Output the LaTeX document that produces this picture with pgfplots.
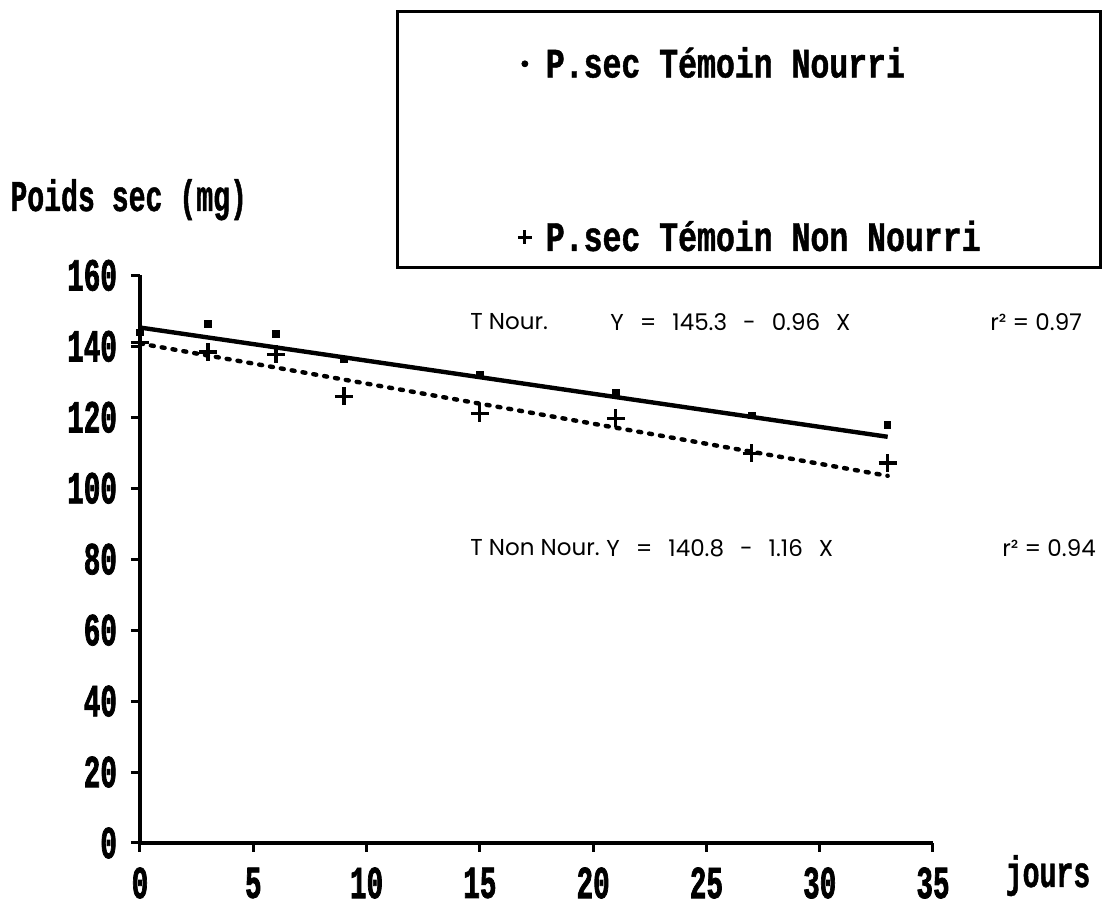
\documentclass[border=0pt]{standalone}
\usepackage{pgfplots}
\pgfplotsset{compat=1.18}
\usepackage{fontspec}
\newfontfamily\tickf{Liberation Mono}[FakeStretch=0.6, BoldFeatures={FakeBold=1.5}]
\newfontfamily\labf{Liberation Mono}[FakeStretch=0.64, BoldFeatures={FakeBold=1}]
\newfontfamily\legf{Liberation Mono}[FakeStretch=0.75, BoldFeatures={FakeBold=1}]
\newfontfamily\annf{Poppins}
\newcommand\annfont{\annf\fontsize{11.5}{11.5}\selectfont}
\newcommand\eqfont{\annf\fontsize{11.5}{11.5}\selectfont\spaceskip=8pt\relax}
\begin{document}
\begin{tikzpicture}
\path[use as bounding box] (-70pt,-33pt) rectangle (489.5pt,421.5pt);
\begin{axis}[
    scale only axis,
    width=396.5pt, height=283.8pt,
    xmin=0, xmax=35, ymin=0, ymax=160,
    axis lines=left,
    axis line style={line width=2pt, -},
    xtick={0,5,...,35},
    ytick={0,20,...,160},
    tick align=outside,
    major tick length=4.5pt,
    tick style={line width=1.5pt, black},
    /pgf/number format/assume math mode=true,
    xticklabel style={font=\tickf\bfseries\fontsize{23}{23}\selectfont, anchor=center, yshift=-15.5pt},
    yticklabel style={font=\tickf\bfseries\fontsize{23}{23}\selectfont, anchor=east, xshift=-3.5pt},
    clip=false,
    legend cell align=left,
    legend image code/.code={\draw[#1] plot coordinates {(0pt,0pt)};},
    legend style={at={(axis description cs:0.476,1.41)}, anchor=north west,
        draw=none, fill=none, inner sep=0pt, row sep=66pt,
        nodes={inner xsep=7pt},
        font=\legf\bfseries\fontsize{21}{21}\selectfont},
]
% regression lines
\addplot[line width=2.2pt, forget plot] coordinates {(0,145.3) (33,114.5)};
\addplot[line width=2.2pt, dash pattern=on 1.5pt off 4pt, line cap=round, forget plot]
    coordinates {(0,140.8) (33,103.5)};
% measured points
\addplot[only marks, mark=square*, mark size=1.6pt, forget plot] coordinates {
    (0,144) (3,146.3) (6,143.5) (9,136.4) (15,131.9) (21,127.1) (27,120.6) (33,117.8)};
\addplot[only marks, mark=+, mark size=4.5pt, line width=1.6pt, forget plot] coordinates {
    (0,141) (3,138.4) (6,137.8) (9,125.9) (15,121.1) (21,119.7) (27,109.9) (33,107.1)};
\addlegendimage{only marks, mark=*, mark size=1.5pt}
\addlegendentry{P.sec Témoin Nourri}
\addlegendimage{only marks, mark=+, mark size=3.5pt, line width=1.5pt}
\addlegendentry{P.sec Témoin Non Nourri}
\end{axis}
% legend frame
\draw[line width=1.5pt] (128.5pt,287.5pt) rectangle (480pt,415.5pt);
% axis titles
\node[anchor=base west, inner sep=0pt, font=\labf\bfseries\fontsize{22}{22}\selectfont] at (-65pt,316pt) {Poids sec (mg)};
\node[anchor=base, inner sep=0pt, font=\labf\bfseries\fontsize{22}{22}\selectfont] at (454pt,-22pt) {jours};
% regression equations
\begin{scope}[every node/.style={anchor=west, inner sep=0pt, font=\annfont}]
\node at (165pt,260.5pt) {T Nour.};
\node[font=\eqfont] at (235pt,260.5pt) {Y = 145.3 - 0.96 X};
\node at (425pt,260.5pt) {r² = 0.97};
\node at (165pt,147.5pt) {T Non Nour.};
\node[font=\eqfont] at (233pt,147.5pt) {Y = 140.8 - 1.16 X};
\node at (431pt,147.5pt) {r² = 0.94};
\end{scope}
\end{tikzpicture}
\end{document}
